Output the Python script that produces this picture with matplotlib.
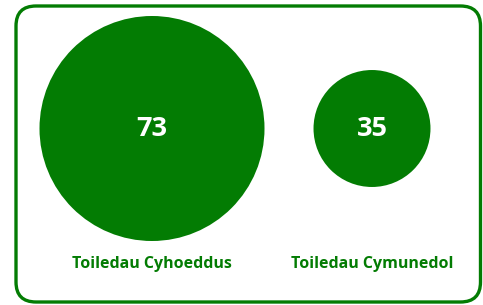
import matplotlib
matplotlib.use("Agg")
import matplotlib.pyplot as plt
from matplotlib.patches import Circle, FancyBboxPatch

categories = ["Toiledau Cyhoeddus", "Toiledau Cymunedol"]
values = [73, 35]

GREEN = "#037c03"
W, H = 483, 305
fig = plt.figure(figsize=(W / 100, H / 100), dpi=100)
ax = fig.add_axes([0, 0, 1, 1])
ax.set_xlim(0, W)
ax.set_ylim(H, 0)
ax.set_aspect("equal")
ax.axis("off")

# rounded frame
frame = FancyBboxPatch((16, 6), 464.5, 296, boxstyle="round,pad=0,rounding_size=20",
                       facecolor="white", edgecolor=GREEN, linewidth=2.4)
ax.add_patch(frame)

centers_x = [152, 372]
cy = 128.5
rmax = 112.5
vmax = max(values)
for cat, v, cx in zip(categories, values, centers_x):
    r = rmax * (v / vmax) ** 0.89
    ax.add_patch(Circle((cx, cy), r, facecolor=GREEN, edgecolor="none"))
    ax.text(cx, cy + 1, str(v), ha="center", va="center", color="white",
            fontsize=19.5, fontweight="bold", family="Open Sans")
    ax.text(cx, 264, cat, ha="center", va="center", color=GREEN,
            fontsize=11.5, fontweight="bold", family="Open Sans")

fig.savefig("out.png", dpi=100)
